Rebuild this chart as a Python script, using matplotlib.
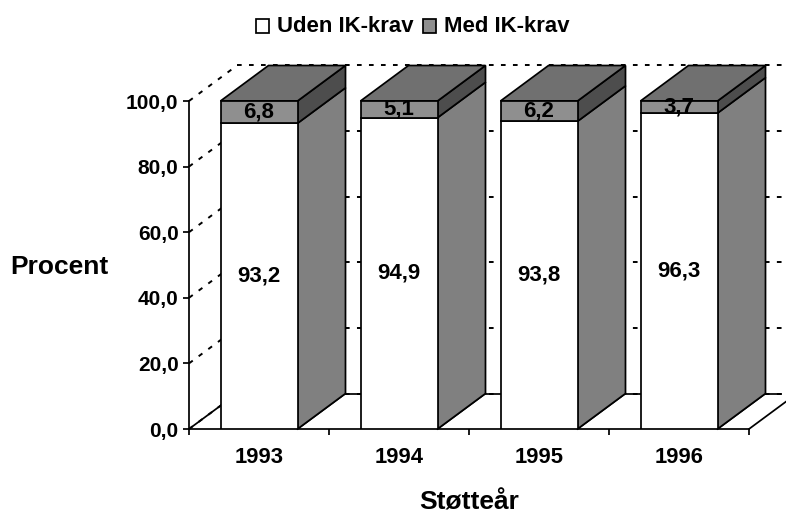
import numpy as np
import matplotlib
matplotlib.use("Agg")
import matplotlib.pyplot as plt
from matplotlib.patches import Polygon, Rectangle

plt.rcParams["font.family"] = "Liberation Sans"
plt.rcParams["font.weight"] = "bold"

years = ["1993", "1994", "1995", "1996"]
uden = [93.2, 94.9, 93.8, 96.3]
med = [6.8, 5.1, 6.2, 3.7]
yticks = [0, 20, 40, 60, 80, 100]
ylabels = ["0,0", "20,0", "40,0", "60,0", "80,0", "100,0"]

# depth of the fake 3d box, in data units
dx = 48 / 140
dy = 35.5 / 3.28
bar_w = 77 / 140
lw = 1.25
dash = (0, (2.4, 3.77))

fig = plt.figure(figsize=(7.86, 5.16), dpi=100)
ax = fig.add_axes([189 / 786, 87 / 516, 560 / 786, 328 / 516])
ax.set_xlim(-0.5, 3.5)
ax.set_ylim(0, 100)
for s in ["top", "right"]:
    ax.spines[s].set_visible(False)
for s in ["left", "bottom"]:
    ax.spines[s].set_linewidth(lw)


def side(x, y0, y1, color):
    # right hand face of a box
    ax.add_patch(Polygon([(x, y0), (x + dx, y0 + dy), (x + dx, y1 + dy), (x, y1)],
                         fc=color, ec="black", lw=lw, zorder=3, clip_on=False))


# back wall and left wall lines
for t in yticks:
    ax.plot([-0.5 + dx, 3.5 + dx], [t + dy, t + dy], color="black", lw=1.4,
            ls=dash, zorder=1, clip_on=False)
    ax.plot([-0.5, -0.5 + dx], [t, t + dy], color="black", lw=1.4,
            ls=dash, zorder=1, clip_on=False)
ax.plot([-0.5, -0.5 + dx], [0, dy], color="black", lw=lw, zorder=1, clip_on=False)
# floor edge on the right
ax.plot([3.5, 3.5 + dx], [0, dy], color="black", lw=lw, zorder=1, clip_on=False)

x = np.arange(len(years))
for i in x:
    left = i - bar_w / 2
    right = i + bar_w / 2
    top = uden[i] + med[i]
    # floor line behind the box
    ax.plot([right + dx, right + dx + 15 / 140], [dy, dy], color="black", lw=lw,
            zorder=2, clip_on=False)
    ax.plot([right, right + dx], [0, dy], color="black", lw=lw, zorder=2, clip_on=False)
    side(right, 0, uden[i], "#808080")
    side(right, uden[i], top, "#4d4d4d")
    ax.add_patch(Polygon([(left, top), (left + dx, top + dy), (right + dx, top + dy), (right, top)],
                         fc="#707070", ec="black", lw=lw, zorder=3, clip_on=False))
    ax.bar(i, uden[i], bar_w, color="white", edgecolor="black", lw=lw, zorder=4)
    ax.bar(i, med[i], bar_w, bottom=uden[i], color="#8f8f8f", edgecolor="black", lw=lw,
           zorder=4, clip_on=False)
    ax.text(i, uden[i] / 2, f"{uden[i]:.1f}".replace(".", ","), ha="center", va="center",
            fontsize=16, zorder=6)
    ax.text(i, uden[i] + med[i] / 2, f"{med[i]:.1f}".replace(".", ","), ha="center", va="center",
            fontsize=16, zorder=6)

ax.set_yticks(yticks)
ax.set_yticklabels(ylabels, fontsize=15)
ax.set_xticks(x)
ax.set_xticklabels(years, fontsize=15.8)
ax.set_xticks(np.arange(-0.5, 4), minor=True)
ax.tick_params(axis="x", which="major", length=0, pad=13)
ax.tick_params(axis="x", which="minor", length=4.5, width=lw)
ax.tick_params(axis="y", length=4.5, width=lw, pad=3)

fig.text(59 / 786, 1 - 274 / 516, "Procent", ha="center", va="baseline", fontsize=19)
fig.text(469 / 786, 1 - 510 / 516, "Støtteår", ha="center", va="baseline", fontsize=19)

# legend by hand, the swatches sit close to the text
fig.text(277 / 786, 1 - 27 / 516, "Uden IK-krav", ha="left", va="center", fontsize=15.9)
fig.text(444 / 786, 1 - 27 / 516, "Med IK-krav", ha="left", va="center", fontsize=15.9)
for px, col in [(256, "white"), (423, "#8f8f8f")]:
    fig.add_artist(Rectangle((px / 786, 1 - 33 / 516), 13 / 786, 14 / 516, fc=col, ec="black",
                             lw=lw, transform=fig.transFigure))

fig.savefig("out.png", dpi=100)
